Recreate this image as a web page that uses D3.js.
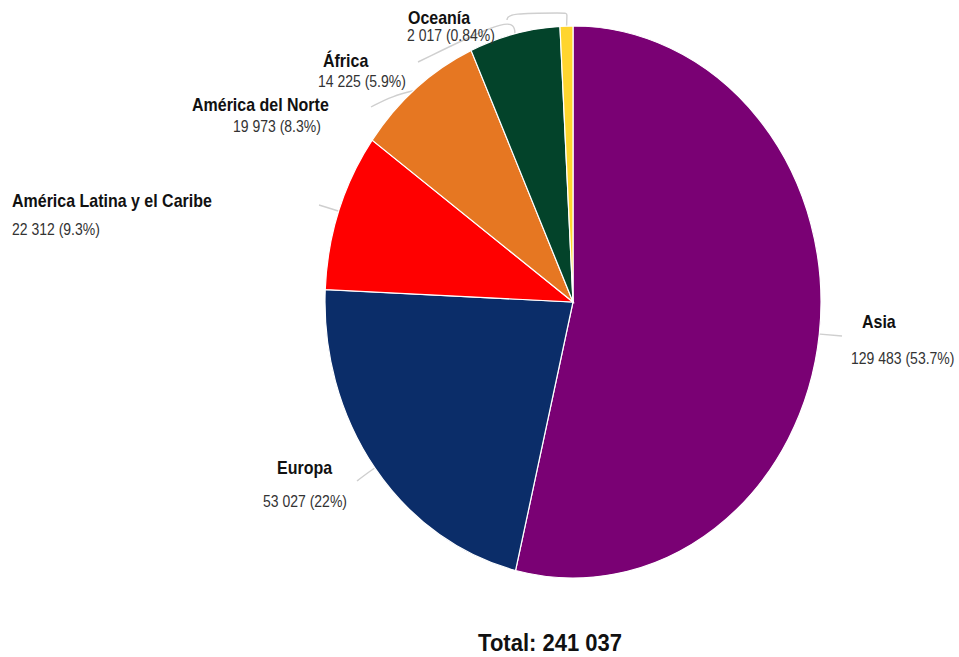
<!DOCTYPE html>
<html>
<head>
<meta charset="utf-8">
<script src="https://cdn.jsdelivr.net/npm/d3@7"></script>
<style>
  body { margin: 0; background: #fff; }
  text { font-family: "Liberation Sans", Arial, sans-serif; }
  .name { font-weight: bold; font-size: 16px; fill: #111; }
  .value { font-size: 14px; fill: #333; }
  .total { font-weight: bold; font-size: 22px; fill: #111; }
  .leader { fill: none; stroke: #cfcfcf; stroke-width: 1.4; }
</style>
</head>
<body>
<div id="chart"></div>
<script>
// data, clockwise from 12 o'clock
var regions = ["Asia", "Europa", "América Latina y el Caribe", "América del Norte", "África", "Oceanía"];
var values  = [129483, 53027, 22312, 19973, 14225, 2017];
var colors  = ["#7a0174", "#0b2d69", "#ff0000", "#e67722", "#03432a", "#ffd52e"];

var width = 959, height = 657;
// the source picture is stretched vertically, so the pie is an ellipse
var cx = 573, cy = 302, radius = 248, stretchY = 276 / 248;

// label placement (start anchor, baseline)
var labelPos = {
  "Asia":                       {name: [862, 328], value: [851, 364]},
  "Europa":                     {name: [277, 474], value: [263, 507]},
  "América Latina y el Caribe": {name: [12, 207],  value: [12, 235]},
  "América del Norte":          {name: [192, 111], value: [233, 132]},
  "África":                     {name: [323, 67],  value: [318, 87]},
  "Oceanía":                    {name: [408, 24],  value: [407, 41]}
};
// leader line points after the slice edge point
var leaderPts = {
  "Asia":                       [[842, 336]],
  "Europa":                     [[366, 474], [357, 481]],
  "América Latina y el Caribe": [[319, 205]],
  "América del Norte":          [[392, 96], [371, 107]],
  "África":                     [[515, 24], [500, 22], [418, 62]],
  "Oceanía":                    [[567, 13], [567, 13], [508, 13], [507, 20]]
};

var data = regions.map(function(r, i) { return {region: r, value: values[i], color: colors[i]}; });
var total = d3.sum(values);

var loc = d3.formatLocale({decimal: ".", thousands: " ", grouping: [3], currency: ["", ""]});
var fmtNum = loc.format(",d");
function fmtPct(v) {
  var p = v / total * 100;
  return p >= 1 ? d3.format(".1~f")(p) : d3.format(".2~r")(p);
}

var svg = d3.select("#chart").append("svg")
    .attr("width", width)
    .attr("height", height);

var pie = d3.pie().sort(null).value(function(d) { return d.value; });
var arcs = pie(data);

var arc = d3.arc().innerRadius(0).outerRadius(radius);

function edgePt(angle, r) {
  return [cx + r * Math.sin(angle), cy - r * stretchY * Math.cos(angle)];
}

// leader lines
var line = d3.line().curve(d3.curveBasis);
svg.append("g")
  .selectAll("path")
  .data(arcs)
  .join("path")
    .attr("class", "leader")
    .attr("d", function(d) {
      var mid = (d.startAngle + d.endAngle) / 2;
      var pts = [edgePt(mid, radius - 2)].concat(leaderPts[d.data.region]);
      return line(pts);
    });

var g = svg.append("g")
    .attr("transform", "translate(" + cx + "," + cy + ") scale(1," + stretchY + ")");

g.selectAll("path")
  .data(arcs)
  .join("path")
    .attr("d", arc)
    .attr("fill", function(d) { return d.data.color; })
    .attr("stroke", "#fff")
    .attr("stroke-width", 1.2)
    .attr("vector-effect", "non-scaling-stroke");

// labels
var labels = svg.append("g").selectAll("g")
  .data(arcs)
  .join("g");

labels.append("text")
    .attr("class", "name")
    .attr("transform", function(d) {
      var p = labelPos[d.data.region].name;
      return "translate(" + p[0] + "," + p[1] + ") scale(1," + stretchY + ")";
    })
    .text(function(d) { return d.data.region; });

labels.append("text")
    .attr("class", "value")
    .attr("transform", function(d) {
      var p = labelPos[d.data.region].value;
      return "translate(" + p[0] + "," + p[1] + ") scale(1," + stretchY + ")";
    })
    .text(function(d) { return fmtNum(d.data.value) + " (" + fmtPct(d.data.value) + "%)"; });

svg.append("text")
    .attr("class", "total")
    .attr("text-anchor", "middle")
    .attr("transform", "translate(550,651) scale(1," + stretchY + ")")
    .text("Total: " + fmtNum(total));
</script>
</body>
</html>
